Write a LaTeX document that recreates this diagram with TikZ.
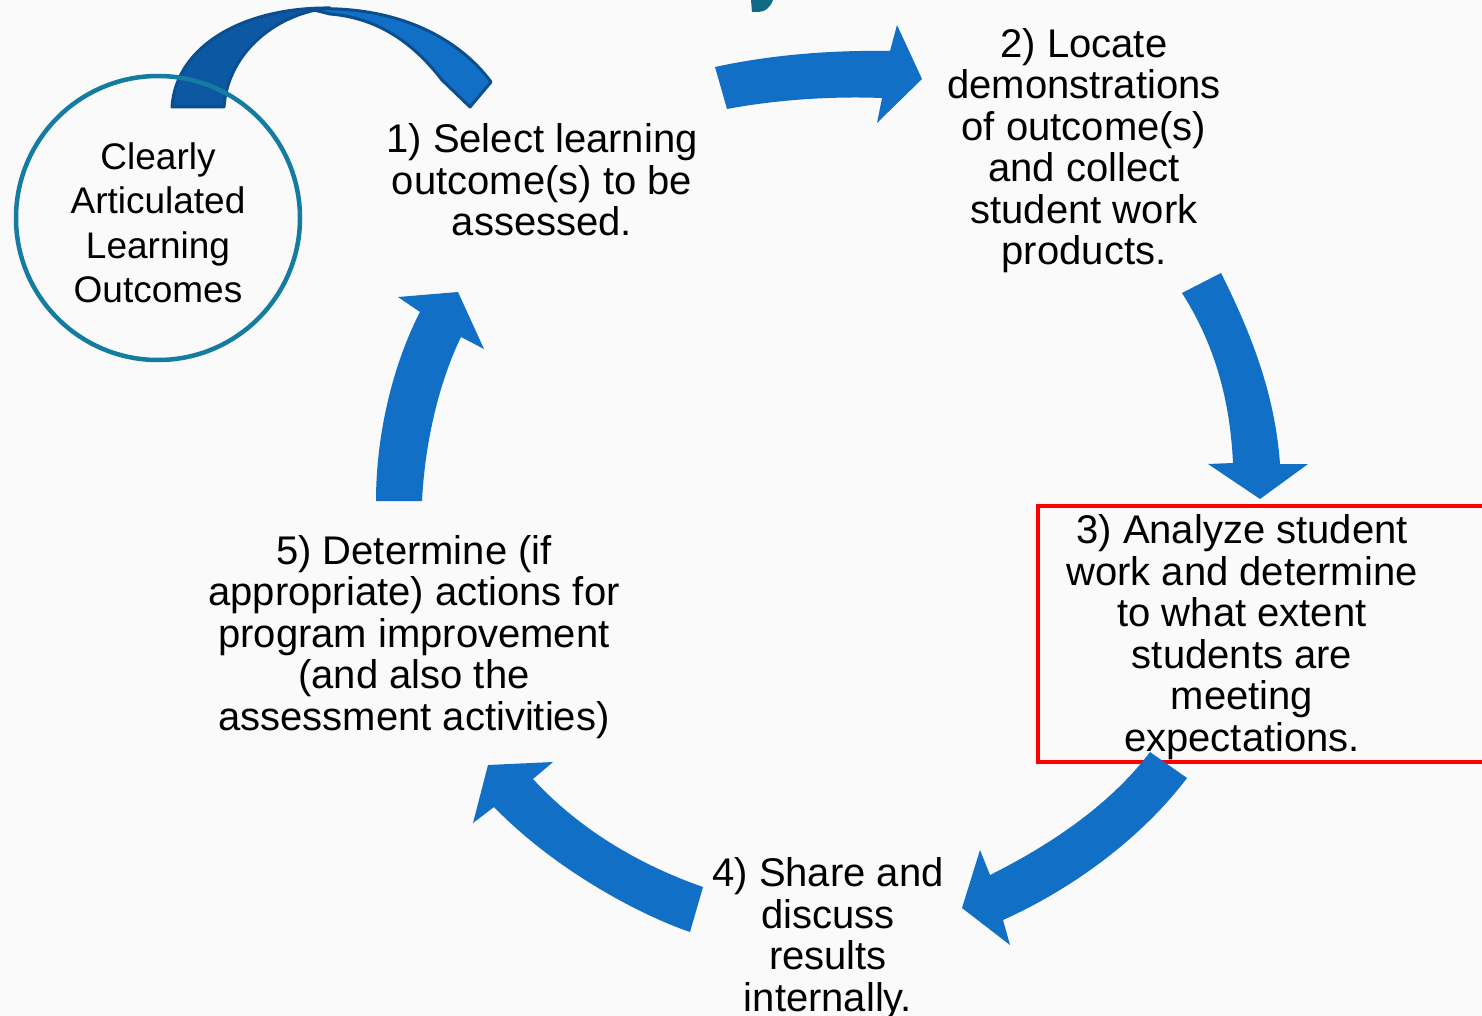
\documentclass[tikz,border=0pt]{standalone}
\usepackage{fontspec}
\setmainfont{Liberation Sans}

\definecolor{cyclearrow}{RGB}{17,112,198}
\definecolor{ribbondark}{RGB}{13,88,163}
\definecolor{ribbonedge}{RGB}{11,78,143}
\definecolor{outcometeal}{RGB}{20,124,160}
\definecolor{titleteal}{RGB}{14,106,134}
\definecolor{paper}{RGB}{250,250,250}

\tikzset{
  steptext/.style={align=center,inner sep=0pt,font=\fontsize{40}{41.5}\selectfont},
  circtext/.style={align=center,inner sep=0pt,font=\fontsize{37}{44.5}\selectfont},
  bigarrow/.style={fill=cyclearrow,draw=none},
}

\begin{document}
\begin{tikzpicture}[x=1pt,y=-1pt]

\fill[paper] (0,0) rectangle (1482,1016);
\useasboundingbox (0,0) rectangle (1482,1016);

% bit of the title that is cut off at the top edge
\fill[titleteal] (751,0) -- (773,0) .. controls (770,8) and (765,12) .. (758,12) -- (752,12) -- cycle;

% twisted ribbon over the outcomes circle
\draw[fill=cyclearrow,draw=ribbonedge,line width=3pt,line join=round]
  (310,9) .. controls (400,5) and (460,40) .. (491,82) -- (470,107) -- (442,80)
  .. controls (415,45) and (380,18) .. (330,14) -- cycle;
\draw[fill=ribbondark,draw=ribbonedge,line width=3pt,line join=round]
  (172,107) .. controls (176,45) and (245,7) .. (330,8)
  .. controls (280,12) and (228,50) .. (224,107) -- cycle;

\node[circle,draw=outcometeal,line width=4.5pt,minimum size=284pt] (o) at (158,218) {};
\node[circtext] (ot) at (158,222.8) {Clearly\\Articulated\\Learning\\Outcomes};

\draw[red,line width=4pt] (1038,506) rectangle (1490,762);

\node[steptext] (a) at (542,180) {1) Select learning\\outcome(s) to be\\assessed.};
\node[steptext] (b) at (1084,150.5) {2) Locate\\demonstrations\\of outcome(s)\\and collect\\student work\\products.};
\node[steptext] (c) at (1242,637) {3) Analyze student\\work and determine\\to what extent\\students are\\meeting\\expectations.};
\node[steptext] (d) at (828,938.5) {4) Share and\\discuss\\results\\internally.};
\node[steptext] (e) at (414,637) {5) Determine (if\\appropriate) actions for\\program improvement\\(and also the\\assessment activities)};

% block arrows of the cycle
\fill[bigarrow] (715,67) .. controls (770,55) and (830,50) .. (890,51) -- (897,25) -- (922,79)
  -- (877,123) -- (882,98) .. controls (830,96) and (775,100) .. (727,109) -- cycle;
\fill[bigarrow] (1221,273) .. controls (1252,335) and (1275,395) .. (1280,464) -- (1308,464)
  -- (1260,499) -- (1208,464) -- (1233,463) .. controls (1230,400) and (1215,345) .. (1182,293) -- cycle;
\fill[bigarrow] (1187,778) .. controls (1140,840) and (1070,890) .. (1003,920) -- (1010,945)
  -- (962,908) -- (980,850) -- (990,875) .. controls (1050,845) and (1110,805) .. (1150,752) -- cycle;
\fill[bigarrow] (690,932) .. controls (640,915) and (555,870) .. (494,807) -- (473,823)
  -- (488,765) -- (553,762) -- (533,779) .. controls (580,830) and (640,865) .. (703,887) -- cycle;
\fill[bigarrow] (376,501) .. controls (376,430) and (395,360) .. (420,312) -- (398,297)
  -- (458,292) -- (484,349) -- (461,337) .. controls (440,380) and (425,440) .. (422,501) -- cycle;

\end{tikzpicture}
\end{document}
